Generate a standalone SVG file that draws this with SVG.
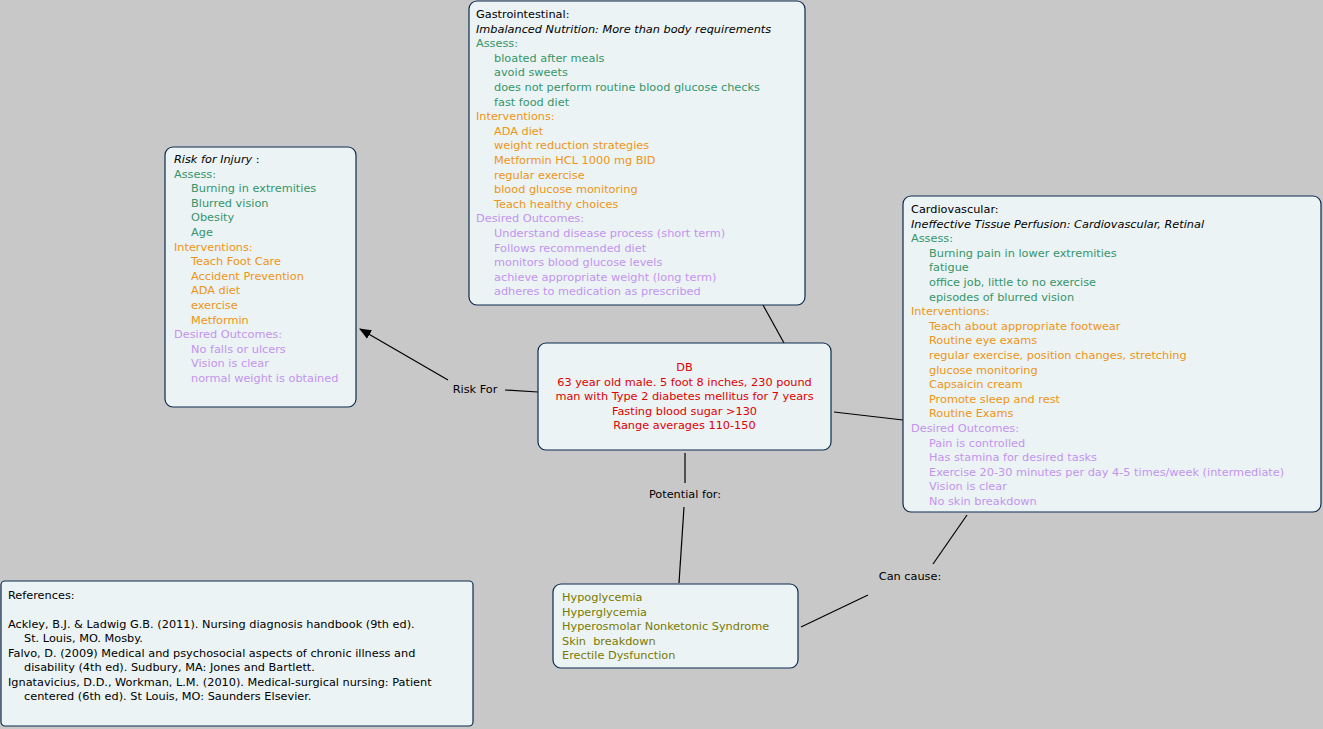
<svg xmlns="http://www.w3.org/2000/svg" width="1323" height="729" viewBox="0 0 1323 729">
<style>
text{font-family:"DejaVu Sans",Verdana,sans-serif;font-size:11.3px}
.box{fill:#ebf3f5;stroke:#0d2b4e;stroke-width:1.2}
.k{fill:#000}.g{fill:#36956a}.o{fill:#ee9514}.p{fill:#c393ee}.r{fill:#e00000}.ol{fill:#7a7a00}
.i{font-style:italic}
.ln{stroke:#000;stroke-width:1.2;fill:none}
</style>
<defs><marker id="ar" markerWidth="12" markerHeight="10" refX="11" refY="5" orient="auto" markerUnits="userSpaceOnUse"><path d="M0,0L12,5L0,10z" fill="#000"/></marker></defs>
<rect width="1323" height="729" fill="#c8c8c8"/>
<g id="connectors">
<line class="ln" x1="763" y1="305" x2="784" y2="343"/>
<line class="ln" x1="538" y1="392" x2="505" y2="390"/>
<line class="ln" x1="448" y1="380" x2="360" y2="329" marker-end="url(#ar)"/>
<text x="475" y="393" text-anchor="middle">Risk For</text>
<line class="ln" x1="834" y1="412" x2="903" y2="420"/>
<line class="ln" x1="685" y1="453" x2="685" y2="483"/>
<text x="685" y="498" text-anchor="middle">Potential for:</text>
<line class="ln" x1="684" y1="507" x2="679" y2="583"/>
<line class="ln" x1="801" y1="627" x2="868" y2="595"/>
<text x="910" y="580" text-anchor="middle">Can cause:</text>
<line class="ln" x1="933" y1="564" x2="967" y2="515"/>
</g>
<g id="gastro">
<rect class="box" x="469" y="1" width="336" height="304" rx="8"/>
<text x="476" y="18" class="k">Gastrointestinal:</text>
<text x="476" y="32.6" class="k i">Imbalanced Nutrition: More than body requirements</text>
<text x="476" y="47.2" class="g">Assess:</text>
<text x="494" y="61.8" class="g">bloated after meals</text>
<text x="494" y="76.4" class="g">avoid sweets</text>
<text x="494" y="91" class="g">does not perform routine blood glucose checks</text>
<text x="494" y="105.6" class="g">fast food diet</text>
<text x="476" y="120.2" class="o">Interventions:</text>
<text x="494" y="134.8" class="o">ADA diet</text>
<text x="494" y="149.4" class="o">weight reduction strategies</text>
<text x="494" y="164" class="o">Metformin HCL 1000 mg BID</text>
<text x="494" y="178.6" class="o">regular exercise</text>
<text x="494" y="193.2" class="o">blood glucose monitoring</text>
<text x="494" y="207.8" class="o">Teach healthy choices</text>
<text x="476" y="222.4" class="p">Desired Outcomes:</text>
<text x="494" y="237" class="p">Understand disease process (short term)</text>
<text x="494" y="251.6" class="p">Follows recommended diet</text>
<text x="494" y="266.2" class="p">monitors blood glucose levels</text>
<text x="494" y="280.8" class="p">achieve appropriate weight (long term)</text>
<text x="494" y="295.4" class="p">adheres to medication as prescribed</text>
</g>
<g id="risk">
<rect class="box" x="165" y="147" width="191" height="260" rx="8"/>
<text x="174" y="163" class="k"><tspan class="i">Risk for Injury</tspan> :</text>
<text x="174" y="177.6" class="g">Assess:</text>
<text x="191" y="192.2" class="g">Burning in extremities</text>
<text x="191" y="206.8" class="g">Blurred vision</text>
<text x="191" y="221.4" class="g">Obesity</text>
<text x="191" y="236" class="g">Age</text>
<text x="174" y="250.6" class="o">Interventions:</text>
<text x="191" y="265.2" class="o">Teach Foot Care</text>
<text x="191" y="279.8" class="o">Accident Prevention</text>
<text x="191" y="294.4" class="o">ADA diet</text>
<text x="191" y="309" class="o">exercise</text>
<text x="191" y="323.6" class="o">Metformin</text>
<text x="174" y="338.2" class="p">Desired Outcomes:</text>
<text x="191" y="352.8" class="p">No falls or ulcers</text>
<text x="191" y="367.4" class="p">Vision is clear</text>
<text x="191" y="382" class="p">normal weight is obtained</text>
</g>
<g id="db">
<rect class="box" x="538" y="343" width="293" height="107" rx="8"/>
<g class="r" text-anchor="middle">
<text x="684.5" y="371">DB</text>
<text x="684.5" y="385.6">63 year old male. 5 foot 8 inches, 230 pound</text>
<text x="684.5" y="400.2">man with Type 2 diabetes mellitus for 7 years</text>
<text x="684.5" y="414.8">Fasting blood sugar &gt;130</text>
<text x="684.5" y="429.4">Range averages 110-150</text>
</g>
</g>
<g id="cardio">
<rect class="box" x="903" y="196" width="418" height="316" rx="8"/>
<text x="911" y="213" class="k">Cardiovascular:</text>
<text x="911" y="227.6" class="k i">Ineffective Tissue Perfusion: Cardiovascular, Retinal</text>
<text x="911" y="242.2" class="g">Assess:</text>
<text x="929" y="256.8" class="g">Burning pain in lower extremities</text>
<text x="929" y="271.4" class="g">fatigue</text>
<text x="929" y="286" class="g">office job, little to no exercise</text>
<text x="929" y="300.6" class="g">episodes of blurred vision</text>
<text x="911" y="315.2" class="o">Interventions:</text>
<text x="929" y="329.8" class="o">Teach about appropriate footwear</text>
<text x="929" y="344.4" class="o">Routine eye exams</text>
<text x="929" y="359" class="o">regular exercise, position changes, stretching</text>
<text x="929" y="373.6" class="o">glucose monitoring</text>
<text x="929" y="388.2" class="o">Capsaicin cream</text>
<text x="929" y="402.8" class="o">Promote sleep and rest</text>
<text x="929" y="417.4" class="o">Routine Exams</text>
<text x="911" y="432" class="p">Desired Outcomes:</text>
<text x="929" y="446.6" class="p">Pain is controlled</text>
<text x="929" y="461.2" class="p">Has stamina for desired tasks</text>
<text x="929" y="475.8" class="p">Exercise 20-30 minutes per day 4-5 times/week (intermediate)</text>
<text x="929" y="490.4" class="p">Vision is clear</text>
<text x="929" y="505" class="p">No skin breakdown</text>
</g>
<g id="complications">
<rect class="box" x="553" y="584" width="245" height="84" rx="8"/>
<g class="ol">
<text x="562" y="601">Hypoglycemia</text>
<text x="562" y="615.6">Hyperglycemia</text>
<text x="562" y="630.2">Hyperosmolar Nonketonic Syndrome</text>
<text x="562" y="644.8" xml:space="preserve">Skin  breakdown</text>
<text x="562" y="659.4">Erectile Dysfunction</text>
</g>
</g>
<g id="references">
<rect class="box" x="1" y="581" width="472" height="145" rx="4"/>
<g class="k">
<text x="8" y="599">References:</text>
<text x="8" y="627.5">Ackley, B.J. &amp; Ladwig G.B. (2011). Nursing diagnosis handbook (9th ed).</text>
<text x="24" y="642">St. Louis, MO. Mosby.</text>
<text x="8" y="656.5">Falvo, D. (2009) Medical and psychosocial aspects of chronic illness and</text>
<text x="24" y="671">disability (4th ed). Sudbury, MA: Jones and Bartlett.</text>
<text x="8" y="685.5">Ignatavicius, D.D., Workman, L.M. (2010). Medical-surgical nursing: Patient</text>
<text x="24" y="700">centered (6th ed). St Louis, MO: Saunders Elsevier.</text>
</g>
</g>
</svg>
